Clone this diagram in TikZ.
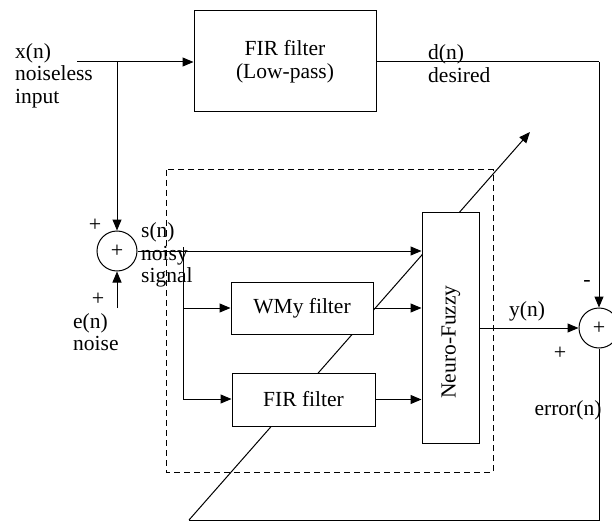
\documentclass[tikz,border=0pt]{standalone}
\usepackage{fontspec}
\setmainfont{Liberation Serif}
\usetikzlibrary{arrows.meta}
\begin{document}
\begin{tikzpicture}[x=1pt,y=-1pt,
  every node/.style={font=\fontsize{21.5}{22.5}\selectfont},
  line/.style={line width=1pt},
  arr/.style={line width=1pt,-{Triangle[length=11pt,width=9pt]}},
  blk/.style={draw,line width=1pt,fill=white,rectangle,inner sep=0pt},
  sumc/.style={draw,line width=1pt,fill=white,circle,minimum size=40pt,inner sep=0pt},
  lbl/.style={inner sep=0pt,align=left},
  sgn/.style={inner sep=0pt,font=\fontsize{22}{22}\selectfont}]
\useasboundingbox (0,0) rectangle (612,521);
\clip (0,0) rectangle (612,521);
% coordinates
\coordinate (xin) at (77,62);
\coordinate (j1) at (117,62);
\coordinate (dcorner) at (599,62);
\coordinate (br) at (183,247);
\coordinate (fbr) at (599,520);
\coordinate (fbl) at (189,520);
\coordinate (tip) at (530,132);
% feedback diagonal drawn first (behind boxes)
\draw[arr] (fbl) -- (tip);
% dashed box
\draw[line width=1pt,dash pattern=on 6pt off 4pt] (166,170) rectangle (493,472);
% blocks
\node[blk,minimum width=182pt,minimum height=101pt,align=center] (fir1) at (285,61.5) {FIR filter\\(Low-pass)};
\node[sumc] (sum1) at (117,251) {};
\node[sgn] (sum1t) at (sum1.center) {+};
\node[sumc] (sum2) at (599,328) {};
\node[sgn] (sum2t) at (sum2.center) {+};
\node[blk,minimum width=57pt,minimum height=230pt] (nf) at (450.5,328) {};
\node[rotate=90,inner sep=0pt] (nftxt) at (451,342) {Neuro-Fuzzy};
\node[blk,minimum width=142pt,minimum height=52pt] (wmy) at (302,308) {WMy filter};
\node[blk,minimum width=143pt,minimum height=53pt] (fir2) at (303.5,399.5) {FIR filter};
% connectors
\draw[arr] (xin) -- (fir1.west |- xin);
\draw[arr] (j1) -- (sum1.north);
\draw[line] (fir1.east |- dcorner) -- (dcorner);
\draw[arr] (dcorner) -- (sum2.north);
\coordinate (ein) at (117,308);
\draw[arr] (ein) -- (sum1.south);
\draw[arr] (sum1.east) -- (nf.west |- sum1.east);
\draw[line] (br) -- (183,399);
\draw[arr] (183,308) -- (wmy.west);
\draw[arr] (183,399) -- (fir2.west |- 183,399);
\draw[arr] (wmy.east) -- (nf.west |- wmy.east);
\draw[arr] (fir2.east) -- (nf.west |- fir2.east);
\draw[arr] (nf.east |- sum2.west) -- (sum2.west);
\draw[line] (sum2.south) -- (fbr) -- (fbl);
% labels
\node[lbl,anchor=west] (lx) at (15,75.5) {x(n)\\noiseless\\input};
\node[lbl,anchor=west] (ld) at (428,63.5) {d(n)\\desired};
\node[lbl,anchor=west] (ls) at (141,255) {s(n)\\noisy\\signal};
\node[lbl,anchor=west] (le) at (73,332) {e(n)\\noise};
\node[sgn] (p1) at (95,225) {+};
\node[sgn] (p2) at (98,299) {+};
\node[inner sep=0pt] (ly) at (527,311) {y(n)};
\node[sgn] (p3) at (560,353) {+};
\node[sgn] (m1) at (587,283) {-};
\node[inner sep=0pt] (lerr) at (568,410) {error(n)};
\end{tikzpicture}
\end{document}
